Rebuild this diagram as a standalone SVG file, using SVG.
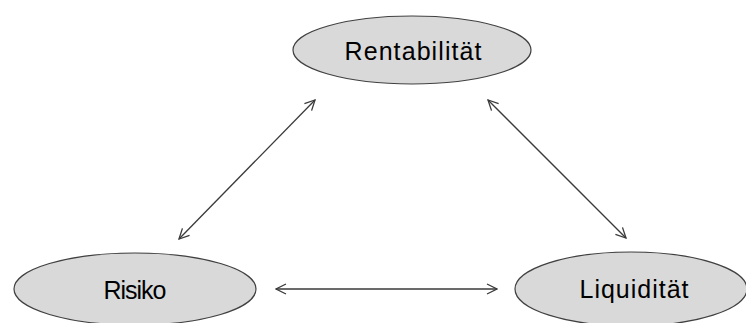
<svg xmlns="http://www.w3.org/2000/svg" width="746" height="323" viewBox="0 0 746 323">
<style>
.node{fill:#d9d9d9;stroke:#404040;stroke-width:1.2}
.lbl{font-family:"Liberation Sans",Arial,sans-serif;font-size:25px;fill:#000;text-anchor:middle}
.conn{stroke:#3a3a3a;stroke-width:1.3;fill:none;marker-start:url(#ah);marker-end:url(#ah)}
</style>
<defs>
<marker id="ah" viewBox="0 0 12 12" refX="11" refY="6" markerWidth="12" markerHeight="12" markerUnits="userSpaceOnUse" orient="auto-start-reverse">
<path d="M1,1 L11,6 L1,11" fill="none" stroke="#3a3a3a" stroke-width="1.3"/>
</marker>
</defs>
<g id="connectors">
<line class="conn" x1="179" y1="239" x2="315" y2="100"/>
<line class="conn" x1="488" y1="100" x2="626" y2="238"/>
<line class="conn" x1="276" y1="289" x2="497" y2="289"/>
</g>
<g id="rentabilitaet">
<ellipse class="node" cx="412" cy="50" rx="119" ry="34"/>
<text class="lbl" x="413" y="60" textLength="137">Rentabilität</text>
</g>
<g id="risiko">
<ellipse class="node" cx="135" cy="289" rx="121" ry="36"/>
<text class="lbl" x="135" y="299" textLength="63">Risiko</text>
</g>
<g id="liquiditaet">
<ellipse class="node" cx="631" cy="289" rx="116" ry="37"/>
<text class="lbl" x="634" y="298" textLength="109">Liquidität</text>
</g>
</svg>
